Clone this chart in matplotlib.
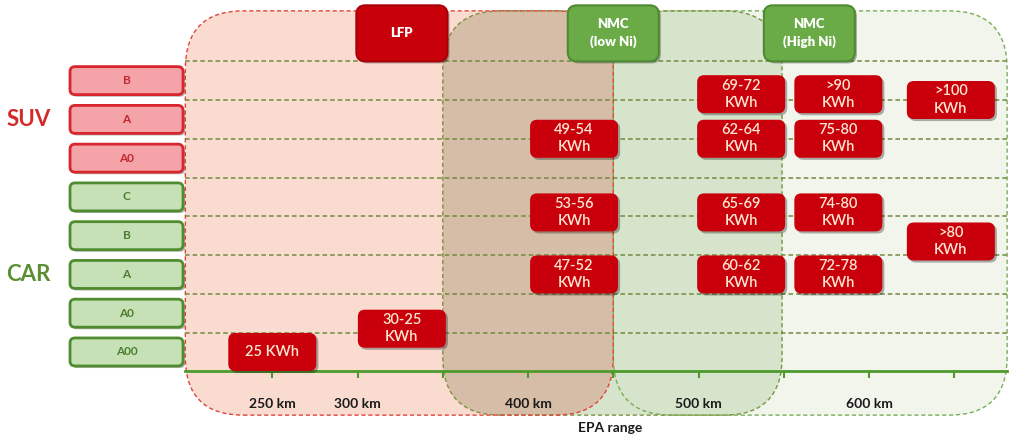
import matplotlib.pyplot as plt
import matplotlib.patheffects as pe
from matplotlib.patches import FancyBboxPatch
import numpy as np

plt.rcParams['font.family'] = ['Lato', 'DejaVu Sans']

# vehicle classes, top to bottom
row_names = ['B', 'A', 'A0', 'C', 'B', 'A', 'A0', 'A00']
row_suv = [True, True, True, False, False, False, False, False]
group_names = ['SUV', 'CAR']
group_row = [6, 2]

# chemistries and the EPA range they cover (km)
chem_names = ['LFP', 'NMC\n(low Ni)', 'NMC\n(High Ni)']
chem_from = [199, 350, 450]
chem_to = [450, 549, 681]
chem_tag_km = [326, 450, 565]

# battery packs: label, range (km), row position (0 = A00)
pack_labels = ['25 KWh', '30-25\nKWh', '49-54\nKWh', '53-56\nKWh', '47-52\nKWh',
               '69-72\nKWh', '62-64\nKWh', '65-69\nKWh', '60-62\nKWh',
               '>90\nKWh', '75-80\nKWh', '74-80\nKWh', '72-78\nKWh',
               '>100\nKWh', '>80\nKWh']
pack_km = [250, 326, 427, 427, 427, 525, 525, 525, 525, 582, 582, 582, 582, 648, 648]
pack_row = [0, 0.6, 5.5, 3.6, 2.0, 6.65, 5.5, 3.6, 2.0, 6.65, 5.5, 3.6, 2.0, 6.5, 2.85]

tick_km = [250, 300, 350, 400, 450, 500, 550, 600, 650]
tick_text = ['250 km', '300 km', '', '400 km', '', '500 km', '', '600 km', '']

fig = plt.figure(figsize=(10.09, 4.38), dpi=100)
ax = fig.add_axes([0, 0, 1, 1])
ax.set_xlim(90.3, 682.1)
ax.set_ylim(-2.22, 9.08)
ax.axis('off')
kx = 1009 / (682.1 - 90.3)   # px per km
ky = 438 / (9.08 + 2.22)     # px per row

shadow = [pe.withSimplePatchShadow(offset=(1.5, -1.5), shadow_rgbFace='k', alpha=0.3)]


def rbox(xc, yc, w_px, h_px, r_px, **kw):
    w = w_px / kx
    h = h_px / ky
    p = FancyBboxPatch((xc - w / 2, yc - h / 2), w, h,
                       boxstyle=f'round,pad=0,rounding_size={r_px / kx}',
                       mutation_aspect=kx / ky, **kw)
    ax.add_patch(p)
    return p


def region(x0, x1, **kw):
    y0, y1 = -1.63, 8.8
    p = FancyBboxPatch((x0, y0), x1 - x0, y1 - y0,
                       boxstyle=f'round,pad=0,rounding_size={58 / kx}',
                       mutation_aspect=kx / ky, **kw)
    ax.add_patch(p)
    return p


# chemistry regions
fills = ['#f9dbd0', '#d5e4ca', '#f1f5ec']
edges = ['#e0453a', '#7d9242', '#79ad57']
order = [2, 1, 0]
patches = {}
for i in order:
    patches[i] = region(chem_from[i], chem_to[i], fc=fills[i], ec='none', zorder=1)
over = region(chem_from[1], chem_to[1], fc='#d6bda7', ec='none', zorder=1.5)
over.set_clip_path(patches[0])
for i in order:
    region(chem_from[i], chem_to[i], fill=False, ec=edges[i], lw=1,
           ls=(0, (3, 2)), zorder=2)

# row separators
n = len(row_names)
ax.hlines(np.arange(n) + 0.5, chem_from[0], chem_to[2], colors='#72893f',
          linestyles=(0, (3, 2)), lw=1.1, zorder=2)

# x axis
ax.plot([chem_from[0], chem_to[2]], [-0.5, -0.5], color='#4e9a2d', lw=2, zorder=3)
ax.vlines(tick_km, -0.5, -0.66, color='#4e9a2d', lw=1.5, zorder=3)
for km, t in zip(tick_km, tick_text):
    ax.text(km, -1.34, t, ha='center', va='center', fontsize=10,
            fontweight='bold', color='#1a1a1a')
ax.text(448, -1.96, 'EPA range', ha='center', va='center', fontsize=10,
        fontweight='bold', color='#1a1a1a')

# row labels
for i, name in enumerate(row_names):
    y = n - 1 - i
    if row_suv[i]:
        fc, ec, tc = '#f4a3a8', '#d7262e', '#c0282d'
    else:
        fc, ec, tc = '#c7e1b6', '#4f8c2f', '#4d7d30'
    rbox(164.5, y, 113, 28, 5, fc=fc, ec=ec, lw=2, zorder=4, path_effects=shadow)
    ax.text(164.5, y, name, ha='center', va='center', fontsize=8.5,
            fontweight='bold', color=tc, zorder=5)

for name, y, c in zip(group_names, group_row, ['#d42a2a', '#5a8f32']):
    ax.text(107, y, name, ha='center', va='center', fontsize=16,
            fontweight='bold', color=c)

# chemistry tags
for i, name in enumerate(chem_names):
    if i == 0:
        fc, ec = '#c8000a', '#a80008'
    else:
        fc, ec = '#6aab47', '#4f8a33'
    rbox(chem_tag_km[i], 8.22, 91, 56, 9, fc=fc, ec=ec, lw=1.5, zorder=4,
         path_effects=shadow)
    ax.text(chem_tag_km[i], 8.22, name, ha='center', va='center', fontsize=9.5,
            fontweight='heavy', color='white', linespacing=1.5, zorder=5)

# battery packs
for lab, km, r in zip(pack_labels, pack_km, pack_row):
    rbox(km, r, 88, 38, 7, fc='#c9000b', ec='none', zorder=4, path_effects=shadow)
    ax.text(km, r, lab, ha='center', va='center', fontsize=10.5,
            fontweight='semibold', color='#fde6d0', linespacing=1.3, zorder=5)

fig.savefig('out.png', dpi=100)
